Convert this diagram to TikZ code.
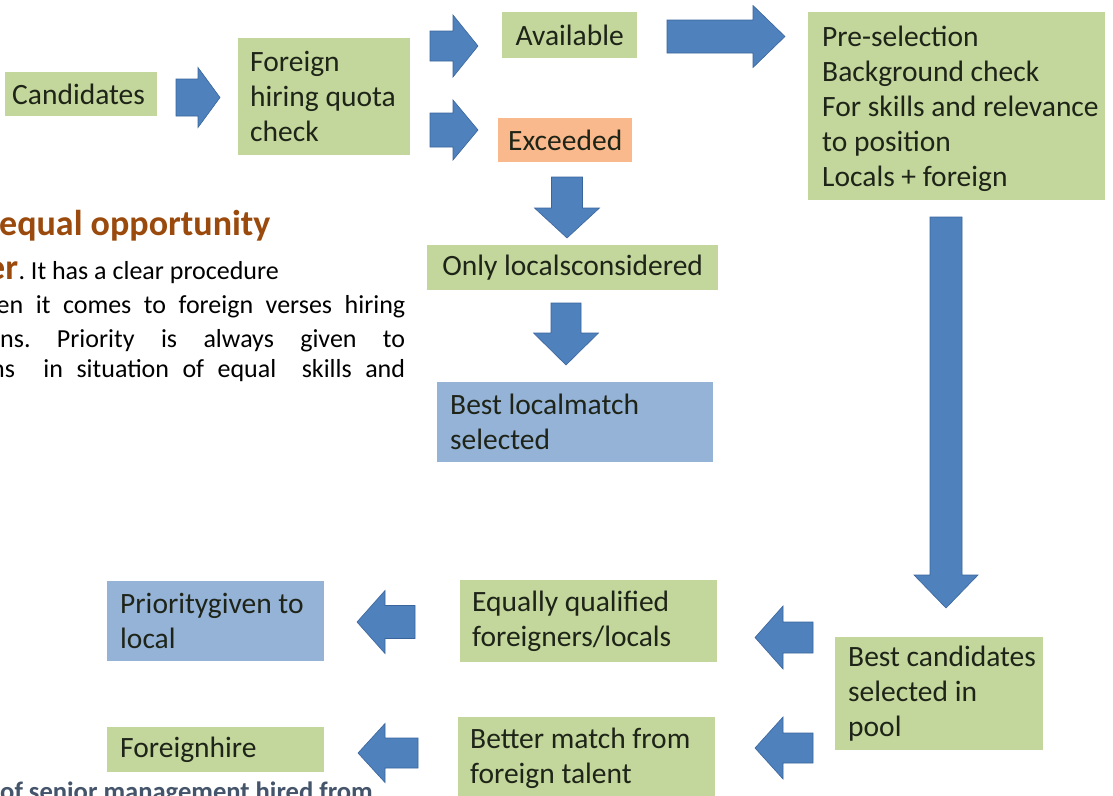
\documentclass[tikz,border=0pt]{standalone}
\usepackage{fontspec}
\setmainfont{Carlito}
\definecolor{boxgreen}{HTML}{C3D69B}
\definecolor{boxorange}{HTML}{F9B98C}
\definecolor{boxblue}{HTML}{95B3D7}
\definecolor{arrfill}{HTML}{4F81BD}
\definecolor{arrline}{HTML}{3A659C}
\definecolor{headbrown}{HTML}{9A4A0C}
\definecolor{slate}{HTML}{44546A}
\definecolor{boxtext}{HTML}{1E2418}
\newcommand\blockarr[7]{%
  \begin{scope}[shift={(#1,#2)},rotate=#3]
    \filldraw[arrowbody] (0,-#6) -- (#5,-#6) -- (#5,-#7) -- (#4,0) -- (#5,#7) -- (#5,#6) -- (0,#6) -- cycle;
  \end{scope}}
\tikzset{
  arrowbody/.style={fill=arrfill,draw=arrline,line width=0.6pt,line join=miter},
  gbox/.style={rectangle,fill=boxgreen,draw=none,inner sep=0pt,anchor=north west},
  obox/.style={gbox,fill=boxorange},
  bbox/.style={gbox,fill=boxblue},
  btext/.style={inner sep=0pt,align=left,text=boxtext,font=\fontsize{29.5}{35}\selectfont},
  para/.style={inner sep=0pt,anchor=base west,text=black,font=\fontsize{26}{30}\selectfont}
}
\frenchspacing
\begin{document}
\begin{tikzpicture}[x=1pt,y=-1pt]
\useasboundingbox (0,0) rectangle (1113,795);
\clip (0,0) rectangle (1113,795);
\fill[white] (0,0) rectangle (1113,795);

% boxes
\node[gbox,minimum width=152pt,minimum height=44pt] (cand) at (5,72) {};
\node[btext,anchor=west] (cand-t) at ([xshift=7pt]cand.west) {Candidates};

\node[gbox,minimum width=172pt,minimum height=117pt] (fq) at (238,38) {};
\node[btext,anchor=west] (fq-t) at ([xshift=12pt]fq.west) {Foreign\\hiring quota\\check};

\node[gbox,minimum width=135pt,minimum height=46pt] (avail) at (502,12) {};
\node[btext] (avail-t) at (avail.center) {Available};

\node[obox,minimum width=134pt,minimum height=44pt] (exc) at (498,118) {};
\node[btext] (exc-t) at (exc.center) {Exceeded};

\node[gbox,minimum width=291pt,minimum height=45pt] (only) at (427,245) {};
\node[btext] (only-t) at (only.center) {Only localsconsidered};

\node[bbox,minimum width=276pt,minimum height=80pt] (bestlocal) at (437,382) {};
\node[btext,anchor=west] (bestlocal-t) at ([xshift=13pt]bestlocal.west) {Best localmatch\\selected};

\node[gbox,minimum width=297pt,minimum height=188pt] (pre) at (808,12) {};
\node[btext,anchor=west] (pre-t) at ([xshift=14pt,yshift=-3pt]pre.west) {Pre-selection\\Background check\\For skills and relevance\\to position\\Locals + foreign};

\node[gbox,minimum width=208pt,minimum height=113pt] (pool) at (835,637) {};
\node[btext,anchor=west] (pool-t) at ([xshift=13pt]pool.west) {Best candidates\\selected in\\pool};

\node[gbox,minimum width=257pt,minimum height=82pt] (equal) at (460,580) {};
\node[btext,anchor=west] (equal-t) at ([xshift=12pt]equal.west) {Equally qualified\\foreigners/locals};

\node[gbox,minimum width=257pt,minimum height=83pt] (better) at (458,717) {};
\node[btext,anchor=west] (better-t) at ([xshift=12pt]better.west) {Better match from\\foreign talent};

\node[bbox,minimum width=217pt,minimum height=80pt] (prio) at (107,581) {};
\node[btext,anchor=west] (prio-t) at ([xshift=13pt]prio.west) {Prioritygiven to\\local};

\node[gbox,minimum width=217pt,minimum height=45pt] (fhire) at (107,727) {};
\node[btext,anchor=west] (fhire-t) at ([xshift=13pt]fhire.west) {Foreignhire};

% block arrows
\blockarr{176}{97.5}{0}{44}{22}{18.5}{30}
\blockarr{430}{46}{0}{48}{23}{15}{31}
\blockarr{430}{130}{0}{48}{23}{17}{30}
\blockarr{667}{36.5}{0}{118}{86}{16.5}{31}
\blockarr{567}{177}{-90}{61}{31}{15.5}{32.5}
\blockarr{566}{303}{-90}{62}{30}{15}{32.5}
\blockarr{946}{217}{-90}{391}{358}{16}{32}
\blockarr{813}{637.5}{180}{58}{30}{15.5}{31.5}
\blockarr{813}{748}{180}{58}{30}{15}{31}
\blockarr{415}{622}{180}{58}{30}{16.5}{31.5}
\blockarr{418}{753}{180}{60}{33}{15}{29.5}

% paragraph text (cut off at the left)
\node[para,text=headbrown,font=\fontsize{36}{40}\selectfont\bfseries] (h1) at (-1,235) {equal opportunity};
\node[para,text=headbrown,font=\fontsize{36}{40}\selectfont\bfseries] (h2) at (-13,279) {er};
\node[para] (p0) at (h2.base east) {. It has a clear procedure};
\node[para] (p1) at (-3.5,313) {\makebox[408.5pt][s]{en it comes to foreign verses hiring}};
\node[para] (p2) at (0,347) {\makebox[405pt][s]{ns. Priority is always given to}};
\node[para] (p3) at (-9,377) {\makebox[414pt][s]{ns\hspace{15pt} in situation of equal\hspace{12pt} skills and}};
\node[para,text=slate,font=\fontsize{26.6}{30}\selectfont\bfseries] (p4) at (0,800) {of senior management hired from};
\end{tikzpicture}
\end{document}
